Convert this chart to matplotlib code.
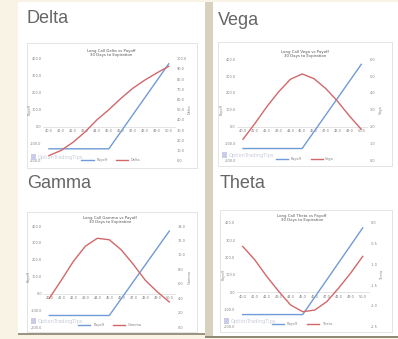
import numpy as np
import matplotlib
matplotlib.use("Agg")
import matplotlib.pyplot as plt
from matplotlib.patches import Rectangle
from matplotlib.lines import Line2D

# strike prices on the category axis
strikes = [40.0, 41.0, 42.0, 43.0, 44.0, 45.0, 46.0, 47.0, 48.0, 49.0, 50.0]
# long call payoff at expiration (strike 45, premium 1.30 x 100 shares)
payoff = [-130, -130, -130, -130, -130, -130, -30, 70, 170, 270, 370]

delta = [5.0, 10.0, 18.0, 28.0, 40.0, 50.0, 61.0, 71.0, 79.0, 86.0, 92.5]
vega = [1.25, 2.18, 3.17, 4.06, 4.81, 5.13, 4.85, 4.26, 3.50, 2.63, 1.84]
gamma = [4.0, 6.5, 9.1, 11.2, 12.3, 12.1, 10.7, 8.7, 6.5, 4.9, 3.5]
theta = [-0.57, -0.89, -1.29, -1.65, -1.98, -2.14, -2.10, -1.90, -1.57, -1.21, -0.81]

payoff_ticks = [-200, -100, 0, 100, 200, 300, 400]
delta_ticks = [0, 10, 20, 30, 40, 50, 60, 70, 80, 90, 100]
vega_ticks = [0, 1, 2, 3, 4, 5, 6]
gamma_ticks = [0, 2, 4, 6, 8, 10, 12, 14]
theta_ticks = [-2.5, -2.0, -1.5, -1.0, -0.5, 0.0]

W, H = 398, 339
BLUE = "#6f9bd6"
RED = "#d2676a"
TXT = "#808080"
TINY = 2.5

fig = plt.figure(figsize=(W / 100, H / 100), dpi=100)
fig.patch.set_facecolor("#f8f3e4")


def frac(x, y):
    return x / W, 1 - y / H


def rect(x0, y0, x1, y1, color, z=-2, ec="none", lw=0):
    fig.patches.append(Rectangle((x0 / W, 1 - y1 / H), (x1 - x0) / W, (y1 - y0) / H,
                                 transform=fig.transFigure, facecolor=color,
                                 edgecolor=ec, linewidth=lw, zorder=z))


# page columns
rect(18, 2, 205, 333, "white")
rect(205, 2, 213, 337, "#d8d1bd")
rect(213, 2, 398, 336, "white")
rect(18, 333, 205, 335, "#9a9480")
rect(205, 336, 398, 338, "#8f8a76")


def heading(text, x, y):
    fig.text(*frac(x, y), text, fontsize=13, color="#666666", va="baseline",
             ha="left", family=["Liberation Sans Narrow", "Liberation Sans", "DejaVu Sans"])


def chart(box, plot, name, values, ticks, fmt, title_y, legend_y, center_x, lab_x):
    bx0, by0, bx1, by1 = box
    rect(bx0, by0, bx1, by1, "white", z=-1, ec="#d9d9d9", lw=0.5)
    px0, py0, px1, py1 = plot
    ax = fig.add_axes([px0 / W, 1 - py1 / H, (px1 - px0) / W, (py1 - py0) / H])
    ax.patch.set_alpha(0)
    ax.set_xlim(39.5, 50.5)
    ax.set_ylim(-200, 400)
    ax.set_yticks(payoff_ticks)
    ax.set_yticklabels(["%.1f" % v for v in payoff_ticks])
    ax.set_xticks(strikes)
    ax.set_xticklabels(["%.1f" % v for v in strikes])
    for s in ["top", "left", "right"]:
        ax.spines[s].set_visible(False)
    ax.spines["bottom"].set_position(("data", 0))
    ax.spines["bottom"].set_color("#d9d9d9")
    ax.spines["bottom"].set_linewidth(0.5)
    ax.tick_params(axis="x", length=0, labelsize=TINY, labelcolor=TXT, pad=2)
    ax.tick_params(axis="y", length=0, labelsize=TINY, labelcolor=TXT, pad=1)

    ax2 = ax.twinx()
    ax2.patch.set_alpha(0)
    ax2.set_ylim(ticks[0], ticks[-1])
    ax2.set_yticks(ticks)
    ax2.set_yticklabels([fmt % v for v in ticks])
    for s in ax2.spines.values():
        s.set_visible(False)
    ax2.tick_params(length=0, labelsize=TINY, labelcolor=TXT, pad=1.5)
    ax.set_zorder(1)
    ax2.set_zorder(1.1)

    ax.plot(strikes, payoff, color=BLUE, lw=1.0, zorder=3)
    ax2.plot(strikes, values, color=RED, lw=1.0, zorder=3)

    fig.text(*frac(center_x, title_y), "Long Call %s vs Payoff\n30 Days to Expiration" % name,
             fontsize=2.8, color="#555555", ha="center", va="center", linespacing=1.3)
    fig.text(*frac(lab_x[0], (py0 + py1) / 2), "Payoff", fontsize=TINY, color=TXT,
             rotation=90, ha="center", va="center")
    fig.text(*frac(lab_x[1], (py0 + py1) / 2), name, fontsize=TINY, color=TXT,
             rotation=90, ha="center", va="center")

    handles = [Line2D([], [], color=BLUE, lw=1.0), Line2D([], [], color=RED, lw=1.0)]
    fig.legend(handles, ["Payoff", name], loc="center", bbox_to_anchor=frac(center_x, legend_y),
               ncol=2, frameon=False, fontsize=TINY, handlelength=3.5, columnspacing=2.5,
               labelcolor=TXT)

    # site watermark
    wx, wy = bx0 + 4, by1 - 11
    rect(wx, wy - 3, wx + 5, wy + 3, "#c9cde8", z=2)
    fig.text(*frac(wx + 7, wy), "OptionTradingTips", fontsize=3.6, color="#c6cbd6",
             ha="left", va="center")


heading("Delta", 26, 23)
heading("Vega", 218, 25)
heading("Gamma", 27, 188)
heading("Theta", 220, 188)

chart((27, 43, 197, 168), (43, 58.7, 174.7, 160.7), "Delta", delta, delta_ticks, "%.1f",
      53, 160, 111, (29.5, 190))
chart((218, 42, 392, 166), (237.1, 59.3, 367.2, 160.3), "Vega", vega, vega_ticks, "%.1f",
      54, 159, 305, (222, 381))
chart((27, 212, 197, 332), (43.3, 226, 175.3, 327.3), "Gamma", gamma, gamma_ticks, "%.1f",
      220, 325, 110, (29, 190))
chart((220, 210, 392, 332), (236.7, 222.7, 368.7, 326.7), "Theta", theta, theta_ticks, "%.1f",
      218, 324, 302, (224, 382))

fig.savefig("out.png", dpi=100, facecolor=fig.get_facecolor())
